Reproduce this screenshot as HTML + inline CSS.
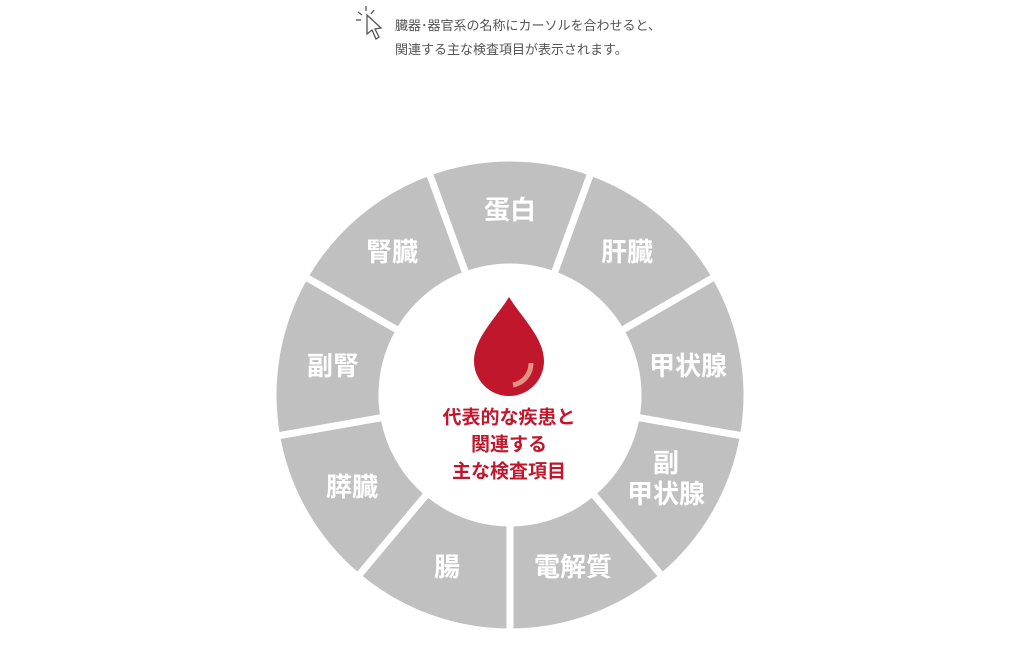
<!DOCTYPE html>
<html><head><meta charset="utf-8"><style>
html,body{margin:0;padding:0;background:#fff;width:1030px;height:660px;overflow:hidden}
svg{display:block}
.l{font-family:"Liberation Sans","Noto Sans CJK JP",sans-serif;font-weight:bold;font-size:26px;fill:#fff;text-anchor:middle;dominant-baseline:central}
.c{font-family:"Liberation Sans","Noto Sans CJK JP",sans-serif;font-weight:bold;font-size:19px;fill:#c0172c;text-anchor:middle;dominant-baseline:central}
.t{font-family:"Liberation Sans","Noto Sans CJK JP",sans-serif;font-size:13px;fill:#555}
</style></head><body>
<svg width="1030" height="660" viewBox="0 0 1030 660">
<g stroke="#555" stroke-width="1.3" fill="none">
<line x1="358" y1="12" x2="362" y2="15"/><line x1="366" y1="6" x2="366" y2="11"/><line x1="374" y1="10" x2="371" y2="14"/><line x1="356" y1="20" x2="361" y2="20"/>
<path d="M367,15 L367,34 L372,30 L376,39 L379,37 L375,29 L381,28 Z" fill="#fff"/>
</g>
<text class="t" x="395" y="30">臓器･器官系の名称にカーソルを合わせると、</text>
<text class="t" x="395" y="54">関連する主な検査項目が表示されます。</text>
<g fill="#bfc0bf" stroke="#fff" stroke-width="7" stroke-linejoin="miter">
<path d="M428.9,172.3 A237,237 0 0 1 591.1,172.3 L553.8,274.7 A128,128 0 0 0 466.2,274.7Z"/>
<path d="M591.1,172.3 A237,237 0 0 1 715.2,276.5 L620.8,331 A128,128 0 0 0 553.8,274.7Z"/>
<path d="M715.2,276.5 A237,237 0 0 1 743.4,436.1 L636.1,417.2 A128,128 0 0 0 620.8,331Z"/>
<path d="M743.4,436.1 A237,237 0 0 1 662.3,576.5 L592.3,493 A128,128 0 0 0 636.1,417.2Z"/>
<path d="M662.3,576.5 A237,237 0 0 1 510,632 L510,523 A128,128 0 0 0 592.3,493Z"/>
<path d="M510,632 A237,237 0 0 1 357.7,576.5 L427.7,493 A128,128 0 0 0 510,523Z"/>
<path d="M357.7,576.5 A237,237 0 0 1 276.6,436.1 L383.9,417.2 A128,128 0 0 0 427.7,493Z"/>
<path d="M276.6,436.1 A237,237 0 0 1 304.8,276.5 L399.2,331 A128,128 0 0 0 383.9,417.2Z"/>
<path d="M304.8,276.5 A237,237 0 0 1 428.9,172.3 L466.2,274.7 A128,128 0 0 0 399.2,331Z"/>
</g>
<text class="l" x="510" y="210">蛋白</text>
<text class="l" x="627" y="252">肝臓</text>
<text class="l" x="688" y="366">甲状腺</text>
<text class="l" x="666" y="463">副</text>
<text class="l" x="666" y="494">甲状腺</text>
<text class="l" x="573" y="567">電解質</text>
<text class="l" x="447" y="567">腸</text>
<text class="l" x="352" y="487">膵臓</text>
<text class="l" x="333" y="366">副腎</text>
<text class="l" x="392" y="252">腎臓</text>
<path d="M509,297 C496,318 474,338 474,361 A35,35 0 0 0 544,361 C544,338 522,318 509,297 Z" fill="#c0172c"/>
<path d="M531,363 A22,22 0 0 1 513,385" stroke="#e39183" stroke-width="5" fill="none"/>
<text class="c" x="509" y="418">代表的な疾患と</text>
<text class="c" x="509" y="445">関連する</text>
<text class="c" x="509" y="472">主な検査項目</text>
</svg>
</body></html>
